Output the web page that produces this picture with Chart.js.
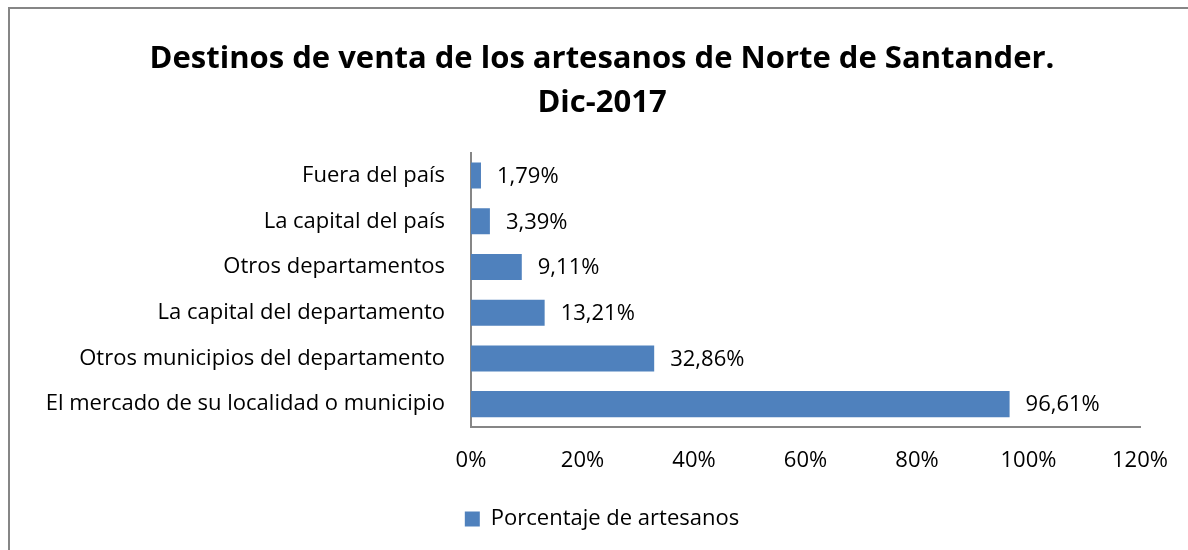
<!DOCTYPE html>
<html>
<head>
<meta charset="utf-8">
<script src="https://cdn.jsdelivr.net/npm/chart.js@4.4.0/dist/chart.umd.min.js"></script>
<style>
  html, body { margin: 0; padding: 0; background: #fff; overflow: hidden; }
  #frame {
    position: absolute; left: 8px; top: 7px; width: 1300px; height: 700px;
    border-left: 2px solid #868686; border-top: 2px solid #868686;
  }
  #chart { position: absolute; left: 0; top: 0; }
</style>
</head>
<body>
<div id="frame"></div>
<canvas id="chart" width="1188" height="550"></canvas>
<script>
// chart data
const categories = [
  "Fuera del país",
  "La capital del país",
  "Otros departamentos",
  "La capital del departamento",
  "Otros municipios del departamento",
  "El mercado de su localidad o municipio",
];
const values = [1.79, 3.39, 9.11, 13.21, 32.86, 96.61];
const valueLabels = ["1,79%", "3,39%", "9,11%", "13,21%", "32,86%", "96,61%"];
const xTicks = [0, 20, 40, 60, 80, 100, 120];
const seriesName = "Porcentaje de artesanos";
const titleLines = ["Destinos de venta de los artesanos de Norte de Santander.", "Dic-2017"];

const FONT = "'Open Sans', Lato, sans-serif";
const BLUE = "#4F81BD";
const SIZE = 22;

// draws value labels right of every bar
const barLabels = {
  id: "barLabels",
  afterDatasetsDraw(chart) {
    const ctx = chart.ctx;
    const meta = chart.getDatasetMeta(0);
    ctx.save();
    ctx.font = SIZE + "px " + FONT;
    ctx.fillStyle = "#000";
    ctx.textBaseline = "middle";
    ctx.textAlign = "left";
    meta.data.forEach((bar, i) => {
      ctx.fillText(valueLabels[i], bar.x + 16, bar.y + 1);
    });
    ctx.restore();
  },
};

Chart.defaults.font.family = FONT;
Chart.defaults.color = "#000";

new Chart(document.querySelector("#chart"), {
  type: "bar",
  data: {
    labels: categories,
    datasets: [
      {
        label: seriesName,
        data: values,
        backgroundColor: BLUE,
        borderWidth: 0,
        barPercentage: 0.57,
        categoryPercentage: 1,
      },
    ],
  },
  options: {
    indexAxis: "y",
    responsive: false,
    animation: false,
    devicePixelRatio: 1,
    layout: { padding: { left: 16, right: 0, top: 0, bottom: 10 } },
    scales: {
      x: {
        min: 0,
        max: 120,
        afterBuildTicks: (scale) => {
          scale.ticks = xTicks.map((v) => ({ value: v }));
        },
        afterFit: (scale) => {
          scale.height = 71;
          // keep room right of the axis without moving the title centre
          scale.paddingRight = 48;
        },
        grid: { display: false, drawTicks: false },
        border: { display: true, color: "#868686", width: 2 },
        ticks: {
          font: { size: SIZE },
          padding: 21,
          maxRotation: 0,
          callback: (v) => v + "%",
        },
      },
      y: {
        grid: { display: false, drawTicks: false },
        border: { display: true, color: "#868686", width: 2 },
        ticks: { font: { size: SIZE }, padding: 26 },
        afterFit: (scale) => {
          scale.width = 455;
        },
      },
    },
    plugins: {
      title: {
        display: true,
        text: titleLines,
        font: { size: 31, weight: "bold", lineHeight: 1.43 },
        color: "#000",
        padding: { top: 37, bottom: 27 },
      },
      legend: {
        position: "bottom",
        labels: {
          font: { size: SIZE },
          boxWidth: 15,
          boxHeight: 15,
          padding: 10,
        },
      },
      tooltip: { enabled: false },
    },
  },
  plugins: [barLabels],
});
</script>
</body>
</html>
